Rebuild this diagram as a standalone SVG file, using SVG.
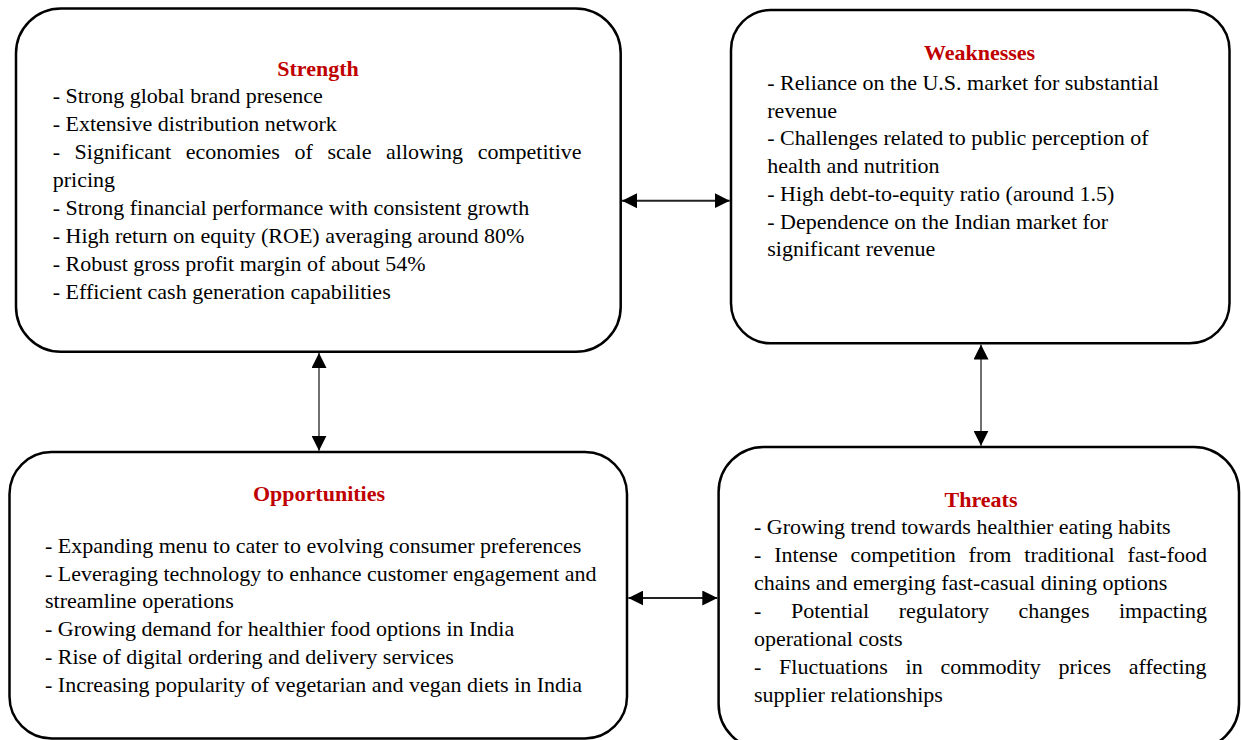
<svg xmlns="http://www.w3.org/2000/svg" width="1241" height="740" viewBox="0 0 1241 740">
<style>
.box{fill:#fff;stroke:#000;stroke-width:2.5}
.t{font-family:"Liberation Serif","Times New Roman",serif;font-size:22px;fill:#000}
.h{font-family:"Liberation Serif","Times New Roman",serif;font-size:22px;font-weight:bold;fill:#C00000;text-anchor:middle}
.conn{stroke:#222;fill:none;marker-start:url(#ah);marker-end:url(#ah)}
</style>
<defs>
<marker id="ah" markerUnits="userSpaceOnUse" markerWidth="15" markerHeight="15" refX="15" refY="7.5" orient="auto-start-reverse">
<path d="M0,0 L15,7.5 L0,15 z" fill="#000"/>
</marker>
</defs>
<rect width="1241" height="740" fill="#fff"/>

<g id="strength">
<rect class="box" x="16" y="8.5" width="604.7" height="343.2" rx="45" ry="45"/>
<text class="h" x="318" y="76">Strength</text>
<text class="t" x="52.7" y="103">- Strong global brand presence</text>
<text class="t" x="52.7" y="131">- Extensive distribution network</text>
<text class="t" y="159"><tspan x="52.7">-</tspan><tspan x="74.6">Significant</tspan><tspan x="185.8">economies</tspan><tspan x="294.5">of</tspan><tspan x="327.5">scale</tspan><tspan x="386.1">allowing</tspan><tspan x="477.7">competitive</tspan></text>
<text class="t" x="52.7" y="187">pricing</text>
<text class="t" x="52.7" y="215">- Strong financial performance with consistent growth</text>
<text class="t" x="52.7" y="243">- High return on equity (ROE) averaging around 80%</text>
<text class="t" x="52.7" y="271">- Robust gross profit margin of about 54%</text>
<text class="t" x="52.7" y="299">- Efficient cash generation capabilities</text>
</g>

<g id="weaknesses">
<rect class="box" x="731" y="10" width="498.5" height="333.3" rx="40" ry="40"/>
<text class="h" x="979.5" y="60">Weaknesses</text>
<text class="t" x="767.3" y="90">- Reliance on the U.S. market for substantial</text>
<text class="t" x="767.3" y="117.7">revenue</text>
<text class="t" x="767.3" y="145.4">- Challenges related to public perception of</text>
<text class="t" x="767.3" y="173.1">health and nutrition</text>
<text class="t" x="767.3" y="200.8">- High debt-to-equity ratio (around 1.5)</text>
<text class="t" x="767.3" y="228.5">- Dependence on the Indian market for</text>
<text class="t" x="767.3" y="256.2">significant revenue</text>
</g>

<g id="opportunities">
<rect class="box" x="9.5" y="452" width="617.5" height="286.5" rx="42" ry="42"/>
<text class="h" x="319" y="500.5">Opportunities</text>
<text class="t" x="45" y="553">- Expanding menu to cater to evolving consumer preferences</text>
<text class="t" x="45" y="580.7">- Leveraging technology to enhance customer engagement and</text>
<text class="t" x="45" y="608.4">streamline operations</text>
<text class="t" x="45" y="636.1">- Growing demand for healthier food options in India</text>
<text class="t" x="45" y="663.8">- Rise of digital ordering and delivery services</text>
<text class="t" x="45" y="691.5">- Increasing popularity of vegetarian and vegan diets in India</text>
</g>

<g id="threats">
<rect class="box" x="718.6" y="447" width="520.4" height="302" rx="45" ry="45"/>
<text class="h" x="981" y="506.5">Threats</text>
<text class="t" x="754" y="533.5">- Growing trend towards healthier eating habits</text>
<text class="t" y="561.5"><tspan x="754">-</tspan><tspan x="774.2">Intense</tspan><tspan x="850.6">competition</tspan><tspan x="968.6">from</tspan><tspan x="1024.3">traditional</tspan><tspan x="1127.6">fast-food</tspan></text>
<text class="t" x="754" y="589.5">chains and emerging fast-casual dining options</text>
<text class="t" y="617.5"><tspan x="754">-</tspan><tspan x="790.9">Potential</tspan><tspan x="898.7">regulatory</tspan><tspan x="1018.6">changes</tspan><tspan x="1119">impacting</tspan></text>
<text class="t" x="754" y="645.5">operational costs</text>
<text class="t" y="673.5"><tspan x="754">-</tspan><tspan x="779.1">Fluctuations</tspan><tspan x="905.6">in</tspan><tspan x="940.5">commodity</tspan><tspan x="1058.5">prices</tspan><tspan x="1128.8">affecting</tspan></text>
<text class="t" x="754" y="701.5">supplier relationships</text>
</g>

<g id="connectors">
<line class="conn" x1="622" y1="200.7" x2="729.7" y2="200.7" stroke-width="2"/>
<line class="conn" x1="319" y1="353" x2="319" y2="450.7" stroke-width="1.3"/>
<line class="conn" x1="981" y1="344.6" x2="981" y2="445.7" stroke-width="1.3"/>
<line class="conn" x1="628.3" y1="598" x2="717.3" y2="598" stroke-width="2"/>
</g>
</svg>
